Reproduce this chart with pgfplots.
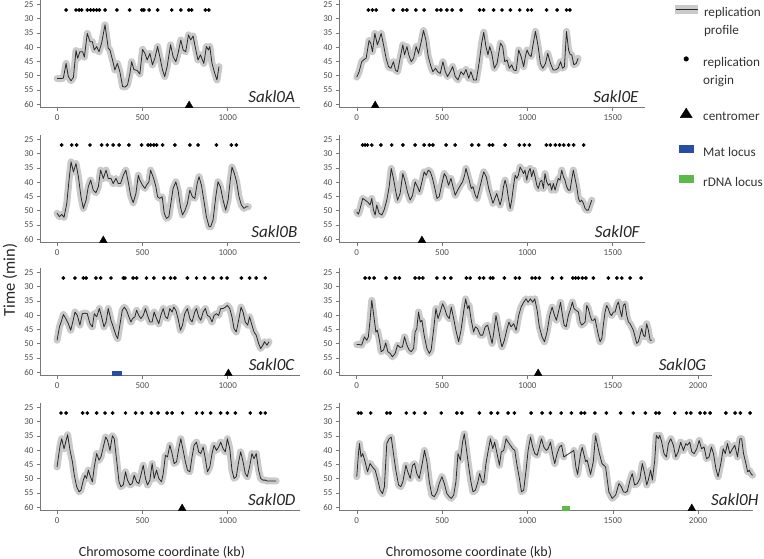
\documentclass[border=0pt]{standalone}
\usepackage{fontspec}
\setmainfont{Carlito}
\usepackage{pgfplots}
\pgfplotsset{compat=1.18}
\usepackage{pgfplotstable}
\definecolor{bandcol}{RGB}{202,202,202}
\definecolor{linecol}{RGB}{40,40,40}
\definecolor{axcol}{RGB}{120,120,120}
\definecolor{labcol}{RGB}{80,80,80}
\definecolor{matblue}{RGB}{38,78,165}
\definecolor{rdnagreen}{RGB}{92,186,72}

\pgfplotsset{
 panel/.style={scale only axis, height=107.4pt, y dir=reverse, ymin=23.6, ymax=61.2,
   ytick={25,30,...,60}, axis x line*=bottom, axis y line*=left,
   axis line style={axcol, line width=0.6pt}, tick style={axcol, line width=0.5pt},
   tick align=outside, major tick length=3pt,
   tick label style={font=\fontsize{9}{9}\selectfont, text=labcol},
   /pgf/number format/assume math mode=true, /pgf/number format/1000 sep={},
   clip=false},
 band/.style={bandcol, line width=7pt, line join=round, line cap=round},
 prof/.style={linecol, line width=0.8pt, line join=round},
 ori/.style={only marks, mark=*, mark size=1.7pt, black},
 cen/.style={only marks, mark=triangle*, mark size=4.4pt, black},
 legbox/.style={anchor=west, hide axis, scale only axis, width=1pt, height=1pt,
   xmin=0, xmax=1, ymin=0, ymax=1,
   legend style={at={(0,0.5)}, anchor=west, draw=none, fill=none, inner sep=0pt,
     font=\fontsize{13.2}{15}\selectfont, text=black!80, row sep=4.5pt, column sep=6pt,
     nodes={inner sep=0pt}},
   legend cell align=left},
}
\newcommand{\plabel}[2]{\node[anchor=base east, xshift=#2, yshift=5pt, font=\fontsize{17}{17}\selectfont\itshape, text=black!85] at (axis description cs:1,0) {#1};}
\newcommand{\lbox}{\path[draw=none,fill=none] (0pt,0pt) rectangle (22pt,8pt);}

\pgfplotstableread{
kb t
0 51
27 51
37 50.8
53 45.7
66 50.3
82 51.8
96 50.5
111 41.2
121 43.9
134 41.6
150 41.6
160 43.5
177 35.2
193 38.1
207 38.1
218 41
232 39.8
246 41.6
261 38.6
281 32.2
300 40.4
310 41
325 44.5
339 48
353 45.7
368 48.6
384 53.8
398 54
413 53.2
427 49.2
437 45.1
450 47.8
470 48.2
485 49.4
501 40.8
515 42.2
528 44.5
544 42.2
559 46.2
573 43.9
589 39.8
602 43.3
618 48
631 50.3
645 46.8
665 39.2
680 43.3
696 45.1
709 42.2
725 37.5
739 41
754 41.6
770 35.7
783 37.5
797 36.1
813 41
826 44.5
840 42.7
860 45.7
875 39.8
887 41
895 39.8
908 45.7
924 49.2
937 51.5
949 46.8
}\dataA

\pgfplotstableread{
kb t
0 50.9
14 52.1
27 51.3
41 52.3
57 47.4
70 39.3
82 32.9
96 36.4
111 33.5
125 38.1
140 45.1
154 49.2
170 46.3
183 41.6
197 39.3
212 42.8
228 43.7
242 41.6
255 35.8
271 38.7
287 35.8
300 38.7
316 38.7
329 40.5
345 38.7
359 40.5
372 40.5
388 37.6
403 35.8
417 39.9
431 44.6
446 47.2
462 44
476 37.6
485 39.3
501 41.1
515 42.2
524 41.1
538 39.9
548 35.8
559 37.6
569 39.3
579 41.6
589 45.1
602 45.7
616 45.1
628 50.9
641 52.7
655 52.1
667 47.4
680 42.2
696 39.9
709 42.8
723 48.6
735 51.5
750 49.8
764 47.4
778 42.8
793 45.1
807 45.7
821 40.5
832 38.1
846 41.1
860 46.3
875 52.1
891 55.6
900 55.6
914 53.3
930 45.1
943 39.9
957 41.6
973 46.3
988 49.8
1002 46.3
1015 39.3
1025 34.7
1039 37
1052 39.9
1066 45.1
1080 48
1095 49.2
1109 48.6
1121 48.6
}\dataB

\pgfplotstableread{
kb t
0 48.8
14 44.1
27 41.8
37 39.8
51 41.2
66 43
80 45.3
92 42.4
105 38.9
119 40.1
134 43.5
148 39.5
164 39.3
177 39.5
193 43
207 44.1
218 39.5
232 40.6
248 37.7
261 40.6
275 44.1
287 42.4
300 37.7
316 41.8
329 44.1
345 47
355 48.2
368 43.5
382 38.3
394 37.2
407 38.3
421 40.6
433 42.4
442 41.2
456 40.6
466 38.3
479 40.1
491 41.2
505 40.1
518 37.7
530 40.1
544 42.4
557 42.4
569 38.9
583 41.2
596 43
608 40.1
622 37.7
635 40.6
647 41.2
661 37.7
674 38.9
684 37.2
696 38.3
709 41.2
723 45.3
735 43.5
748 39.5
764 37.7
778 41.2
791 42.4
807 38.9
817 37.7
830 40.6
842 41.8
856 38.9
869 37.7
881 40.1
895 40.6
908 42.4
920 40.1
934 39.5
947 40.1
959 37.7
973 37.7
986 37.2
998 36.6
1012 37.7
1025 40.6
1037 44.7
1050 45.9
1064 41.8
1078 37.2
1090 38.9
1103 42.4
1117 43.5
1128 40.6
1142 43.5
1154 45.9
1167 47
1181 49.9
1193 51.7
1206 50.5
1216 49.3
1230 50.5
1242 49.3
}\dataC

\pgfplotstableread{
kb t
0 45.9
8 42.4
18 38.3
27 36
41 39.5
53 36.6
62 34.6
76 40.1
90 44.1
101 48.8
115 52.8
129 54.6
140 54
154 50.5
164 48.8
173 49.9
183 47
193 48.8
207 51.1
218 45.9
232 41.2
246 43.5
257 42.4
271 38.9
285 35.4
296 36.6
310 40.1
324 35
335 36
349 43.5
363 51.1
374 52.8
388 52.2
401 47.6
413 50.5
427 52.2
440 51.7
452 48.8
466 51.1
479 51.7
491 48.8
505 45.3
518 49.9
530 52.2
544 50.5
557 44.7
569 49.9
583 47
596 49.9
612 51.1
622 48.2
635 41.8
647 42.4
661 38.3
674 41.2
686 44.7
700 44.1
713 39.5
725 36
739 40.1
752 44.1
764 47
778 47.6
791 42.4
803 38.3
817 37.2
830 40.6
842 41.2
856 38.9
869 43
881 47.6
895 45.9
908 41.2
920 38.3
934 40.1
947 38.9
959 37.2
973 39.5
986 40.6
998 36
1012 39.5
1025 47
1037 49.9
1050 49.3
1064 44.1
1076 40.6
1090 44.1
1103 48.2
1115 49.3
1128 45.9
1142 41.2
1154 43
1167 41.2
1181 47
1193 49.9
1206 50.5
1220 50.5
1232 50.8
1284 50.8
}\dataD

\pgfplotstableread{
kb t
0 50.5
14 48.6
29 45.1
43 44.3
55 43.9
63 41
72 37.7
82 38.6
92 41.6
106 35.2
121 39.2
131 37.5
143 35.2
157 39.2
172 43.9
186 46.8
200 47.4
215 45.1
227 48
239 48.6
254 43.9
270 39.2
280 42.7
294 39.8
305 42.7
319 45.1
333 43.9
348 39.8
362 42.2
376 38.6
391 34.2
405 37.5
419 43.3
434 46.6
446 48.6
462 47.4
474 48.6
489 49.2
505 45.1
519 48.6
532 50.3
548 48.6
562 46.8
577 50.3
593 51.5
611 48.6
626 49.7
640 47.8
656 50.9
669 48.6
685 51.5
701 51.5
718 45.1
732 38.6
744 34.8
757 39.8
769 42.7
779 39.8
791 42.2
806 47.4
822 45.7
842 38.6
855 39.8
867 45.1
881 44.5
894 47.4
908 46.2
920 48
934 48.2
949 41
963 43.3
978 46.8
988 43.3
998 41
1010 42.7
1022 43.3
1031 39.8
1047 34.5
1063 39.8
1076 45.7
1090 47.4
1106 45.7
1119 42.2
1135 45.7
1151 48
1164 48
1180 47.4
1194 45.1
1206 47.4
1217 46.8
1229 34.5
1241 41
1251 42.7
1260 42.7
1272 46.2
1286 45.7
1297 43.9
}\dataE

\pgfplotstableread{
kb t
0 50.4
10 51.2
20 49.2
35 45.7
49 46.3
63 46.9
78 48
88 45.7
98 49.8
108 51.5
117 48
131 50.9
147 51.5
160 49.8
176 46.3
190 41.6
202 35.2
215 38.7
229 43.4
239 46.3
254 44
270 37
284 39.9
297 43.4
313 46.3
327 44.6
342 39.9
356 41.6
368 43.4
382 39.9
395 36.4
407 37.6
419 35.8
431 36.4
444 38.7
460 42.8
470 45.7
483 45.1
499 40.5
513 37
524 38.1
538 41.1
552 38.7
564 41.6
577 44.6
591 42.8
607 41.1
620 39.9
632 37.6
640 35.2
656 38.7
671 42.2
681 41.6
695 44.6
705 45.7
720 42.2
734 38.7
744 36.4
759 38.1
773 42.2
787 45.1
798 47.4
820 44
840 48
850 45.7
860 41.6
869 39.3
879 41.6
889 45.7
899 49.2
908 46.3
918 41.6
928 37.6
938 38.7
947 37.6
957 34.7
967 35.8
977 37
986 35.8
996 39.3
1006 36.4
1016 35.2
1025 38.1
1035 35.8
1045 38.1
1055 41.1
1064 42.2
1074 39.9
1084 39.3
1094 42.2
1103 37
1113 39.9
1123 41.1
1133 40.5
1142 42.8
1152 40.5
1162 42.8
1172 40.5
1181 38.7
1191 39.3
1201 35.8
1211 38.1
1220 39.3
1230 41.6
1240 42.8
1250 42.8
1259 39.3
1269 35.8
1279 38.7
1289 41.6
1299 45.7
1308 46.9
1318 46.3
1328 47.4
1338 49.2
1347 49.8
1357 49.8
1367 48
1377 46.3
}\dataF

\pgfplotstableread{
kb t
0 50.3
14 50.3
29 50.5
45 47.6
59 48.8
68 47.6
78 41.8
88 34.8
102 41.2
112 45.9
121 45.3
133 48.8
143 52.8
157 52.2
170 49.7
182 52.8
196 53.4
209 54.6
225 53.4
239 50.5
254 51.3
268 51.1
280 47.6
294 50.5
307 52.2
319 52.8
333 51.7
342 45.9
352 44.7
362 38.9
372 42.4
382 41.8
395 47
411 51.7
425 53.4
436 52.2
450 45.3
464 37.7
476 41.2
489 38.9
503 36
515 37.7
528 40.1
542 41.2
554 37.2
568 41.2
581 45.3
597 49.3
611 45.3
626 38.9
638 34.3
650 37.7
658 36.6
671 41.8
685 45.9
695 44.1
708 44.7
724 47
738 47
753 44.1
767 43.5
779 46.4
793 49.9
802 46.4
816 40.1
828 44.1
842 48.8
851 51.1
865 48.8
881 44.7
892 42.4
904 44.1
920 43
934 45.3
949 40.1
963 37.2
978 35.5
992 34.3
1004 35.5
1018 34.3
1031 35.5
1043 34.3
1057 38.3
1070 44.1
1086 47.6
1100 49.3
1115 45.9
1131 40.1
1145 37.2
1159 40.1
1170 41.8
1184 38.3
1194 35.5
1201 38.3
1215 43.5
1227 44.1
1240 40.1
1250 38.3
1264 35.4
1273 37.7
1285 38.3
1299 38.9
1309 42.4
1318 43.5
1328 43
1338 42.4
1348 36.6
1357 37.7
1367 40.1
1377 41.8
1387 41.8
1396 41.2
1406 44.1
1416 47
1426 49.3
1436 48.2
1445 43.5
1455 38.9
1465 36.6
1474 37.7
1484 39.5
1494 40.1
1504 38.9
1514 38.9
1524 36.6
1533 35.4
1543 38.3
1553 40.6
1562 36.6
1572 36
1582 40.1
1592 42.4
1602 43
1611 44.1
1621 45.3
1631 47.6
1641 49.9
1650 49.3
1660 47
1670 44.7
1680 47
1689 47.6
1699 43
1709 45.3
1719 48.8
1729 48.8
}\dataG

\pgfplotstableread{
kb t
0 49.3
10 41.2
16 37.7
25 42.4
35 41.2
49 44.1
63 47.6
78 44.7
92 45.9
108 47
121 49.9
137 54
151 55.2
162 52.8
176 37.7
190 36
202 35.4
215 41.2
229 47
245 52.2
258 52.8
270 51.1
288 45.3
299 47.6
313 49.9
327 45.3
339 44.7
352 48.2
366 49.9
382 45.3
397 40.1
411 44.1
425 51.1
440 55.7
454 56.3
470 54.6
483 51.7
499 49.3
513 51.7
528 55.2
542 56.3
554 56.9
568 55.7
581 51.1
593 41.2
607 43.5
620 37.2
630 34.3
642 39.5
656 45.9
669 51.1
681 54.6
695 54
710 51.1
720 48.2
734 51.1
744 51.3
757 44.7
769 40.6
783 36
797 39.5
808 37.2
822 41.2
836 45.3
847 40.6
861 40.1
875 36
887 37.2
900 38.3
914 39.5
926 40.1
939 45.3
953 49.9
965 54.6
978 54
992 47
1004 40.1
1018 35.4
1031 38.9
1043 41.2
1057 41.8
1070 38.9
1082 36
1096 38.9
1110 40.1
1121 39.5
1135 37.2
1149 41.8
1160 44.7
1174 41.2
1188 38.9
1200 38.3
1213 42.4
1272 40.1
1284 46
1294 48.5
1311 41.5
1321 39
1341 44
1350 43.5
1370 48.5
1386 44
1399 35
1419 40.6
1437 44.7
1458 45.9
1477 54.6
1497 56.9
1517 55.7
1536 51.7
1550 52.8
1562 54.6
1575 54.8
1585 54.4
1601 50.5
1614 48.2
1628 52.2
1644 51.7
1659 49.9
1673 44.7
1687 48.2
1699 52.2
1708 50.5
1722 47
1732 50.5
1746 43.5
1755 34.8
1767 36
1775 34.8
1787 37.2
1800 41.2
1814 42.4
1826 37.7
1840 36
1855 38.3
1869 42.4
1883 40.6
1898 37.2
1914 40.1
1928 37.7
1937 38.3
1951 37.2
1963 40.6
1977 41.2
1992 39.5
2006 36.6
2020 39.5
2035 38.9
2049 43
2064 42.4
2078 38.9
2090 41.2
2104 46.4
2117 49.3
2133 44.7
2147 39.5
2159 41.2
2172 37.7
2186 41.2
2202 39.5
2215 38.3
2231 42.4
2245 36
2255 36
2266 41.2
2280 44.7
2290 47.6
2300 47
2309 48.2
2319 48.8
}\dataH

\begin{document}
\begin{tikzpicture}[x=1pt,y=1pt]
\path[use as bounding box] (0,0) rectangle (764,559);

% ---- A ----
\begin{axis}[panel, at={(40pt,451.3pt)}, width=259.9pt, xmin=-100, xmax=1423, xtick={0,500,1000}]
\addplot[band] table[x=kb,y=t] {\dataA};
\addplot[prof] table[x=kb,y=t] {\dataA};
\addplot[ori] coordinates {(53,27)(111,27)(129,27)(144,27)(177,27)(197,27)(214,27)(232,27)(248,27)(281,27)(351,27)(425,27)(497,27)(509,27)(540,27)(589,27)(672,27)(725,27)(772,27)(789,27)(869,27)(889,27)};
\addplot[cen] coordinates {(774,60.4)};
\plabel{Sakl0A}{-1.5pt}
\end{axis}

% ---- B ----
\begin{axis}[panel, at={(40pt,316.3pt)}, width=259.9pt, xmin=-100, xmax=1423, xtick={0,500,1000}]
\addplot[band] table[x=kb,y=t] {\dataB};
\addplot[prof] table[x=kb,y=t] {\dataB};
\addplot[ori] coordinates {(27,27)(86,27)(115,27)(193,27)(261,27)(294,27)(329,27)(364,27)(421,27)(495,27)(534,27)(548,27)(567,27)(583,27)(618,27)(690,27)(778,27)(826,27)(934,27)(1021,27)(1051,27)};
\addplot[cen] coordinates {(271,60.4)};
\plabel{Sakl0B}{1pt}
\end{axis}

% ---- C ----
\begin{axis}[panel, at={(40pt,183.3pt)}, width=259.9pt, xmin=-100, xmax=1423, xtick={0,500,1000}]
\addplot[band] table[x=kb,y=t] {\dataC};
\addplot[prof] table[x=kb,y=t] {\dataC};
\addplot[ori] coordinates {(37,27)(105,27)(154,27)(170,27)(228,27)(255,27)(316,27)(388,27)(398,27)(446,27)(466,27)(524,27)(567,27)(626,27)(665,27)(690,27)(764,27)(817,27)(865,27)(914,27)(963,27)(996,27)(1080,27)(1128,27)(1167,27)(1220,27)};
\addplot[fill=matblue, draw=none] coordinates {(324,59.5)(379,59.5)(379,61.2)(324,61.2)} -- cycle;
\addplot[cen] coordinates {(1004,60.4)};
\plabel{Sakl0C}{-2pt}
\end{axis}

% ---- D ----
\begin{axis}[panel, at={(40pt,48.3pt)}, width=259.9pt, xmin=-100, xmax=1423, xtick={0,500,1000}]
\addplot[band] table[x=kb,y=t] {\dataD};
\addplot[prof] table[x=kb,y=t] {\dataD};
\addplot[ori] coordinates {(23,27)(53,27)(150,27)(177,27)(232,27)(281,27)(326,27)(401,27)(460,27)(499,27)(553,27)(592,27)(645,27)(674,27)(735,27)(817,27)(852,27)(900,27)(959,27)(998,27)(1045,27)(1132,27)(1193,27)(1220,27)};
\addplot[cen] coordinates {(733,60.4)};
\plabel{Sakl0D}{-1pt}
\end{axis}

% ---- E ----
\begin{axis}[panel, at={(339pt,451.3pt)}, width=306pt, xmin=-104, xmax=1689, xtick={0,500,1000,1500}]
\addplot[band] table[x=kb,y=t] {\dataE};
\addplot[prof] table[x=kb,y=t] {\dataE};
\addplot[ori] coordinates {(68,27)(92,27)(114,27)(215,27)(270,27)(294,27)(346,27)(395,27)(470,27)(493,27)(528,27)(559,27)(612,27)(720,27)(744,27)(802,27)(851,27)(900,27)(955,27)(1002,27)(1024,27)(1112,27)(1174,27)(1229,27)(1249,27)};
\addplot[cen] coordinates {(108,60.4)};
\plabel{Sakl0E}{-3pt}
\end{axis}

% ---- F ----
\begin{axis}[panel, at={(339pt,316.3pt)}, width=306pt, xmin=-104, xmax=1689, xtick={0,500,1000,1500}]
\addplot[band] table[x=kb,y=t] {\dataF};
\addplot[prof] table[x=kb,y=t] {\dataF};
\addplot[ori] coordinates {(35,27)(49,27)(63,27)(88,27)(141,27)(205,27)(270,27)(342,27)(395,27)(425,27)(446,27)(524,27)(577,27)(675,27)(714,27)(777,27)(796,27)(869,27)(953,27)(982,27)(1012,27)(1111,27)(1135,27)(1164,27)(1189,27)(1213,27)(1242,27)(1271,27)(1330,27)};
\addplot[cen] coordinates {(382,60.4)};
\plabel{Sakl0F}{-2pt}
\end{axis}

% ---- G ----
\begin{axis}[panel, at={(339pt,183.3pt)}, width=372.7pt, xmin=-104, xmax=2080, xtick={0,500,1000,1500,2000}]
\addplot[band] table[x=kb,y=t] {\dataG};
\addplot[prof] table[x=kb,y=t] {\dataG};
\addplot[ori] coordinates {(49,27)(74,27)(102,27)(172,27)(225,27)(250,27)(342,27)(366,27)(387,27)(470,27)(513,27)(552,27)(642,27)(665,27)(720,27)(744,27)(783,27)(798,27)(865,27)(930,27)(953,27)(1027,27)(1047,27)(1070,27)(1146,27)(1200,27)(1266,27)(1282,27)(1299,27)(1322,27)(1343,27)(1387,27)(1474,27)(1524,27)(1553,27)(1602,27)(1666,27)};
\addplot[cen] coordinates {(1063,60.4)};
\plabel{Sakl0G}{-2pt}
\end{axis}

% ---- H ----
\begin{axis}[panel, at={(339pt,48.3pt)}, width=413.9pt, xmin=-104, xmax=2321, xtick={0,500,1000,1500,2000}]
\addplot[band, restrict x to domain=0:1213] table[x=kb,y=t] {\dataH};
\addplot[band, restrict x to domain=1272:2400] table[x=kb,y=t] {\dataH};
\addplot[prof] table[x=kb,y=t] {\dataH};
\addplot[ori] coordinates {(10,27)(25,27)(82,27)(176,27)(196,27)(290,27)(337,27)(401,27)(495,27)(587,27)(616,27)(718,27)(787,27)(826,27)(887,27)(924,27)(1022,27)(1086,27)(1135,27)(1198,27)(1258,27)(1315,27)(1335,27)(1395,27)(1462,27)(1546,27)(1620,27)(1691,27)(1752,27)(1771,27)(1863,27)(1932,27)(1957,27)(2012,27)(2039,27)(2070,27)(2163,27)(2217,27)(2247,27)(2305,27)};
\addplot[fill=rdnagreen, draw=none] coordinates {(1205,59.6)(1250,59.6)(1250,61.2)(1205,61.2)} -- cycle;
\addplot[cen] coordinates {(1963,60.4)};
\plabel{Sakl0H}{9pt}
\end{axis}

% ---- legend (one small hidden axis per entry) ----
\begin{axis}[legbox, at={(675pt,538.5pt)}]
\addlegendimage{legend image code/.code={\lbox \fill[bandcol] (0pt,0pt) rectangle (22pt,8pt); \draw[linecol, line width=0.8pt] (0pt,4pt) -- (22pt,4pt);}}
\addlegendentry{replication}
\addlegendimage{legend image code/.code={\lbox}}
\addlegendentry{profile}
\end{axis}
\begin{axis}[legbox, at={(675pt,488.5pt)}]
\addlegendimage{legend image code/.code={\lbox \fill[black] (11pt,4pt) circle (2.3pt);}}
\addlegendentry{replication}
\addlegendimage{legend image code/.code={\lbox}}
\addlegendentry{origin}
\end{axis}
\begin{axis}[legbox, at={(675pt,444pt)}]
\addlegendimage{legend image code/.code={\lbox \fill[black] (5pt,-0.5pt) -- (17pt,-0.5pt) -- (11pt,9pt) -- cycle;}}
\addlegendentry{centromer}
\end{axis}
\begin{axis}[legbox, at={(675pt,408pt)}]
\addlegendimage{legend image code/.code={\lbox \fill[matblue] (4pt,0.5pt) rectangle (18pt,7.5pt);}}
\addlegendentry{Mat locus}
\end{axis}
\begin{axis}[legbox, at={(675pt,378pt)}]
\addlegendimage{legend image code/.code={\lbox \fill[rdnagreen] (4pt,0.5pt) rectangle (18pt,7.5pt);}}
\addlegendentry{rDNA locus}
\end{axis}

\node[rotate=90, font=\fontsize{16.5}{16.5}\selectfont, text=black!85] at (10,279) {Time (min)};
\node[font=\fontsize{14}{14}\selectfont, text=black!85] at (162,7) {Chromosome coordinate (kb)};
\node[font=\fontsize{14}{14}\selectfont, text=black!85] at (469,7) {Chromosome coordinate (kb)};
\end{tikzpicture}
\end{document}
